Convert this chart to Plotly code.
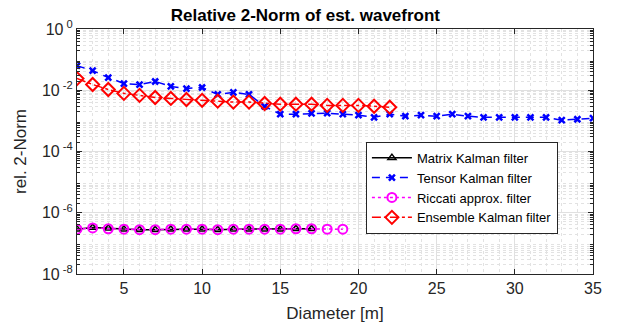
import numpy as np
import plotly.graph_objects as go

# ---- data ----
x_matrix = list(range(2, 18))
y_matrix = [2.9e-7, 3.3e-7, 3.1e-7, 2.9e-7, 2.8e-7, 2.8e-7, 2.9e-7, 2.9e-7,
            2.9e-7, 2.8e-7, 2.9e-7, 2.9e-7, 2.9e-7, 2.9e-7, 3.0e-7, 3.0e-7]

x_tensor = list(range(2, 36))
y_tensor = [0.0635, 0.0437, 0.026, 0.0166, 0.0154, 0.0193, 0.0133, 0.0114,
            0.0123, 0.0073, 0.0085, 0.0073, 0.0030, 0.00165, 0.00165, 0.00175,
            0.00178, 0.00165, 0.00153, 0.00131, 0.00165, 0.00142, 0.00153, 0.00142,
            0.00165, 0.00142, 0.00131, 0.00131, 0.00131, 0.00131, 0.00131, 0.00105,
            0.00113, 0.00122]

x_riccati = list(range(2, 20))
y_riccati = [2.9e-7, 3.2e-7, 3.0e-7, 2.9e-7, 2.8e-7, 2.8e-7, 2.9e-7, 2.9e-7,
             2.9e-7, 2.8e-7, 2.9e-7, 2.9e-7, 2.9e-7, 2.9e-7, 3.0e-7, 3.0e-7,
             2.9e-7, 2.9e-7]

x_ensemble = list(range(2, 23))
y_ensemble = [0.0241, 0.0154, 0.0106, 0.0079, 0.0068, 0.0058, 0.0054, 0.0050,
              0.0047, 0.0044, 0.0041, 0.0041, 0.0037, 0.0035, 0.0035, 0.0035,
              0.0032, 0.0032, 0.0032, 0.0030, 0.0028]

x_ticks = [5, 10, 15, 20, 25, 30, 35]
y_tickvals = [1e0, 1e-2, 1e-4, 1e-6, 1e-8]
y_ticktext = ["10<sup> 0</sup>", "10<sup> -2</sup>", "10<sup> -4</sup>",
              "10<sup> -6</sup>", "10<sup> -8</sup>"]

FONT = "Liberation Sans, Arial"

fig = go.Figure()
fig.add_trace(go.Scatter(x=x_matrix, y=y_matrix, name="Matrix Kalman filter",
                         mode="lines+markers",
                         line=dict(color="black", width=1.5, dash="solid"),
                         marker=dict(symbol="triangle-up-open", size=7,
                                     color="black", line=dict(width=1.5))))
fig.add_trace(go.Scatter(x=x_tensor, y=y_tensor, name="Tensor Kalman filter",
                         mode="lines+markers",
                         line=dict(color="blue", width=1.5, dash="8px,6px"),
                         marker=dict(symbol="x-thin-open", size=6,
                                     color="blue", line=dict(width=2.5, color="blue"))))
fig.add_trace(go.Scatter(x=x_riccati, y=y_riccati, name="Riccati approx. filter",
                         mode="lines+markers",
                         line=dict(color="#ff00ff", width=1.5, dash="dot"),
                         marker=dict(symbol="circle-open", size=9,
                                     color="#ff00ff", line=dict(width=2))))
fig.add_trace(go.Scatter(x=x_ensemble, y=y_ensemble, name="Ensemble Kalman filter",
                         mode="lines+markers",
                         line=dict(color="red", width=1.5, dash="dashdot"),
                         marker=dict(symbol="diamond-open", size=10,
                                     color="red", line=dict(width=2))))

minor_y = [m * 10.0 ** k for k in range(-8, 0) for m in range(2, 10)]
minor_x = [v for v in range(2, 36) if v not in x_ticks]

axis_common = dict(showline=True, linecolor="#262626", linewidth=1, mirror="ticks",
                   ticks="inside", ticklen=5, tickcolor="#262626",
                   gridcolor="#e0e0e0", gridwidth=1, zeroline=False,
                   tickfont=dict(family=FONT, size=16, color="#262626"))

fig.update_xaxes(range=[2, 35], tickvals=x_ticks, **axis_common,
                 title=dict(text="Diameter [m]", font=dict(family=FONT, size=17, color="#262626"),
                            standoff=10),
                 minor=dict(tickvals=minor_x, showgrid=True, gridcolor="#e2e2e2",
                            griddash="dot", ticks=""))
fig.update_yaxes(type="log", range=[-8, 0], tickvals=y_tickvals, ticktext=y_ticktext,
                 **axis_common,
                 title=dict(text="rel. 2-Norm", font=dict(family=FONT, size=17, color="#262626"),
                            standoff=10),
                 minor=dict(tickvals=minor_y, showgrid=True, gridcolor="#e2e2e2",
                            griddash="dot", ticks="inside", ticklen=3, tickcolor="#262626"))

fig.update_layout(
    width=617, height=331,
    margin=dict(l=77, r=24, t=29, b=55),
    paper_bgcolor="white", plot_bgcolor="white",
    title=dict(text="<b>Relative 2-Norm of est. wavefront</b>", x=0.495, xanchor="center",
               y=0.955, yanchor="middle",
               font=dict(family=FONT, size=17, color="black")),
    legend=dict(x=0.932, xanchor="right", y=0.54, yanchor="top",
                bgcolor="white", bordercolor="#262626", borderwidth=1,
                font=dict(family=FONT, size=13, color="black"),
                tracegroupgap=0, itemwidth=40),
    showlegend=True,
)

fig.write_html("out.html")
